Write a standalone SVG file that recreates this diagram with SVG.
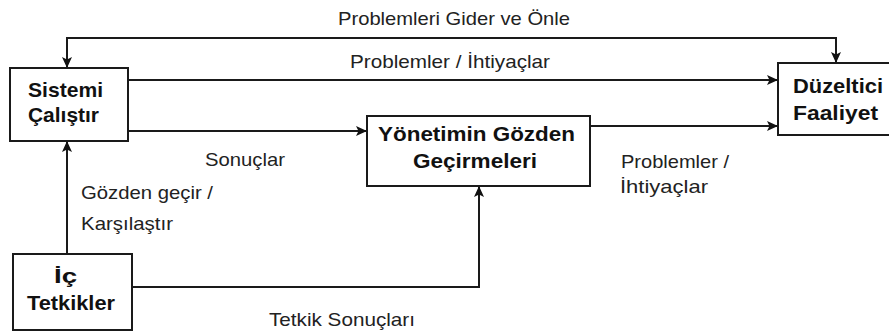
<svg xmlns="http://www.w3.org/2000/svg" width="889" height="333" viewBox="0 0 889 333">
  <style>
    .box { fill: #ffffff; stroke: #1a1a1a; stroke-width: 2; }
    .title { font-family: "Liberation Sans", Arial, sans-serif; font-weight: bold; font-size: 21px; fill: #111111; }
    .label { font-family: "Liberation Sans", Arial, sans-serif; font-size: 19px; fill: #222222; }
    .wire { fill: none; stroke: #1a1a1a; stroke-width: 2; }
  </style>
  <defs>
    <marker id="arrow" viewBox="0 0 11 10" refX="11" refY="5" markerWidth="11" markerHeight="10" markerUnits="userSpaceOnUse" orient="auto-start-reverse">
      <path d="M0,0 L11,5 L0,10 L2.5,5 Z" fill="#111111"/>
    </marker>
  </defs>
  <rect width="889" height="333" fill="#ffffff"/>

  <!-- connectors -->
  <g id="connectors">
    <path class="wire" d="M67,68 V38 H836 V63" marker-start="url(#arrow)" marker-end="url(#arrow)"/>
    <path class="wire" d="M128,80 H778" marker-end="url(#arrow)"/>
    <path class="wire" d="M128,131 H367" marker-end="url(#arrow)"/>
    <path class="wire" d="M590,126 H778" marker-end="url(#arrow)"/>
    <path class="wire" d="M67,254 V141" marker-end="url(#arrow)"/>
    <path class="wire" d="M132,287 H479 V186" marker-end="url(#arrow)"/>
  </g>

  <!-- connector labels -->
  <g id="labels">
    <text class="label" x="338" y="25" textLength="232" lengthAdjust="spacingAndGlyphs">Problemleri Gider ve Önle</text>
    <text class="label" x="350" y="68" textLength="200" lengthAdjust="spacingAndGlyphs">Problemler / İhtiyaçlar</text>
    <text class="label" x="205" y="166" textLength="80" lengthAdjust="spacingAndGlyphs">Sonuçlar</text>
    <text class="label" x="621" y="168" textLength="108" lengthAdjust="spacingAndGlyphs">Problemler /</text>
    <text class="label" x="620" y="193" textLength="88" lengthAdjust="spacingAndGlyphs">İhtiyaçlar</text>
    <text class="label" x="81" y="199" textLength="132" lengthAdjust="spacingAndGlyphs">Gözden geçir /</text>
    <text class="label" x="81" y="230" textLength="92" lengthAdjust="spacingAndGlyphs">Karşılaştır</text>
    <text class="label" x="269" y="326" textLength="146" lengthAdjust="spacingAndGlyphs">Tetkik Sonuçları</text>
  </g>

  <!-- nodes -->
  <g id="sistemi-calistir">
    <rect class="box" x="10" y="68" width="118" height="73"/>
    <text class="title" x="28" y="97" textLength="75" lengthAdjust="spacingAndGlyphs">Sistemi</text>
    <text class="title" x="28" y="122" textLength="71" lengthAdjust="spacingAndGlyphs">Çalıştır</text>
  </g>

  <g id="yonetimin-gozden-gecirmeleri">
    <rect class="box" x="367" y="116" width="223" height="70"/>
    <text class="title" x="378" y="141" textLength="197" lengthAdjust="spacingAndGlyphs">Yönetimin Gözden</text>
    <text class="title" x="413" y="168" textLength="124" lengthAdjust="spacingAndGlyphs">Geçirmeleri</text>
  </g>

  <g id="duzeltici-faaliyet">
    <rect class="box" x="778" y="63" width="120" height="72"/>
    <text class="title" x="793" y="93" textLength="90" lengthAdjust="spacingAndGlyphs">Düzeltici</text>
    <text class="title" x="793" y="120" textLength="85" lengthAdjust="spacingAndGlyphs">Faaliyet</text>
  </g>

  <g id="ic-tetkikler">
    <rect class="box" x="13" y="254" width="119" height="76"/>
    <text class="title" x="54" y="283" textLength="23" lengthAdjust="spacingAndGlyphs">İç</text>
    <text class="title" x="27" y="310" textLength="88" lengthAdjust="spacingAndGlyphs">Tetkikler</text>
  </g>
</svg>
